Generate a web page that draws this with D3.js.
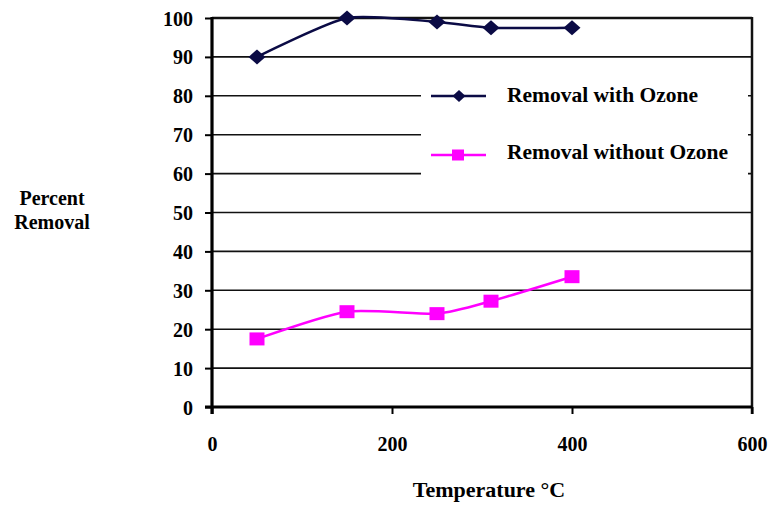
<!DOCTYPE html>
<html><head>
<script src="https://cdn.jsdelivr.net/npm/d3@7"></script>
</head><body style="margin:0">
<script>
const temperatures = [50, 150, 250, 310, 400];
const withOzone = [90, 100, 99, 97.5, 97.5];
const withoutOzone = [17.5, 24.5, 24, 27.2, 33.5];
const yTicks = [0, 10, 20, 30, 40, 50, 60, 70, 80, 90, 100];
const xTicks = [0, 200, 400, 600];
const seriesNames = ["Removal with Ozone", "Removal without Ozone"];

const FAM = "Liberation Serif";
const W = 770, H = 507;
const m = {left: 212, right: 752, top: 18, bottom: 407};
const svg = d3.select("body").append("svg").attr("width", W).attr("height", H)
  .style("display", "block").attr("font-family", FAM).attr("font-weight", "bold");
const x = d3.scaleLinear().domain([0, 600]).range([m.left, m.right]);
const y = d3.scaleLinear().domain([0, 100]).range([m.bottom, m.top]);

function styleText(sel, size) {
  sel.attr("font-family", FAM).attr("font-weight", "bold")
     .attr("font-size", size).attr("fill", "#000");
  return sel;
}

// gridlines
svg.append("g").selectAll("line").data(yTicks.filter(d => d > 0)).join("line")
  .attr("x1", m.left).attr("x2", m.right).attr("y1", d => y(d)).attr("y2", d => y(d))
  .attr("stroke", "#111").attr("stroke-width", d => d === 100 ? 2.5 : 1.6);
// right frame
svg.append("line").attr("x1", m.right).attr("x2", m.right).attr("y1", m.top - 1).attr("y2", m.bottom + 7)
  .attr("stroke", "#111").attr("stroke-width", 2.5);

// y axis
const yAxis = svg.append("g").attr("transform", `translate(${m.left},0)`)
  .call(d3.axisLeft(y).tickValues(yTicks).tickSize(7).tickPadding(12));
yAxis.attr("font-family", FAM).attr("font-size", 20);
yAxis.select(".domain").attr("stroke-width", 3.2).attr("d", `M0,${m.top - 1}V${m.bottom + 7}`);
yAxis.selectAll(".tick line").attr("stroke-width", 2);
styleText(yAxis.selectAll("text"), 20).attr("dy", "0.35em");

// x axis
const xAxis = svg.append("g").attr("transform", `translate(0,${m.bottom})`)
  .call(d3.axisBottom(x).tickValues(xTicks).tickSize(7).tickPadding(23));
xAxis.attr("font-family", FAM).attr("font-size", 20);
xAxis.select(".domain").attr("stroke-width", 3).attr("d", `M${m.left - 7},0H${m.right}`);
xAxis.selectAll(".tick line").attr("stroke-width", 2);
styleText(xAxis.selectAll("text"), 20);

// legend box
svg.append("rect").attr("x", 421).attr("y", 63).attr("width", 327).attr("height", 140).attr("fill", "#fff");

// lines
const line = d3.line().curve(d3.curveCardinal.tension(0.35));
const ozPts = temperatures.map((t, i) => [x(t), y(withOzone[i])]);
const noPts = temperatures.map((t, i) => [x(t), y(withoutOzone[i])]);
const navy = "#0b0b45", mag = "#ff00ff";
svg.append("path").attr("d", line(ozPts)).attr("fill", "none").attr("stroke", navy).attr("stroke-width", 2.5);
svg.append("path").attr("d", line(noPts)).attr("fill", "none").attr("stroke", mag).attr("stroke-width", 2.5);

const diamondPath = (w, h) => `M0,${-h / 2}L${w / 2},0L0,${h / 2}L${-w / 2},0Z`;
svg.append("g").selectAll("path").data(ozPts).join("path")
  .attr("transform", d => `translate(${d[0]},${d[1]})`).attr("d", diamondPath(17, 15)).attr("fill", navy);
svg.append("g").selectAll("rect").data(noPts).join("rect")
  .attr("x", d => d[0] - 7.5).attr("y", d => d[1] - 6.5).attr("width", 15).attr("height", 13).attr("fill", mag);

// legend
const lg = [{name: seriesNames[0], c: navy, y: 96, ty: 102, sym: "d"}, {name: seriesNames[1], c: mag, y: 155, ty: 159, sym: "s"}];
lg.forEach(l => {
  svg.append("line").attr("x1", 431).attr("x2", 486).attr("y1", l.y).attr("y2", l.y).attr("stroke", l.c).attr("stroke-width", 2.5);
  if (l.sym === "d") svg.append("path").attr("transform", `translate(459,${l.y})`).attr("d", diamondPath(13, 12)).attr("fill", l.c);
  else svg.append("rect").attr("x", 452).attr("y", l.y - 5.5).attr("width", 12).attr("height", 11).attr("fill", l.c);
  styleText(svg.append("text").attr("x", 507).attr("y", l.ty).text(l.name), 21.5);
});

// axis titles
styleText(svg.append("text").attr("x", 52).attr("y", 205).attr("text-anchor", "middle").text("Percent"), 20);
styleText(svg.append("text").attr("x", 52).attr("y", 229).attr("text-anchor", "middle").text("Removal"), 20);
styleText(svg.append("text").attr("x", 489).attr("y", 497).attr("text-anchor", "middle").text("Temperature °C"), 22);
</script>
</body></html>
